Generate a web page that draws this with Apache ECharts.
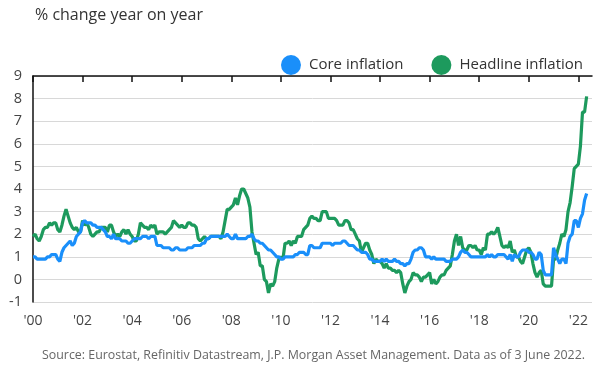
<!DOCTYPE html>
<html>
<head>
<meta charset="utf-8">
<script src="https://cdn.jsdelivr.net/npm/echarts@6/dist/echarts.min.js"></script>
<style>
html,body{margin:0;padding:0;background:#fff;}
#chart{width:600px;height:374px;}
</style>
</head>
<body>
<div id="chart"></div>
<script>
const startYear = 2000;
const yTicks = [-1, 0, 1, 2, 3, 4, 5, 6, 7, 8, 9];
const xTickYears = [2000, 2002, 2004, 2006, 2008, 2010, 2012, 2014, 2016, 2018, 2020, 2022];

const headline = [
  1.9,2.0,1.8,1.7,1.9,2.2,2.3,2.3,2.5,2.4,2.5,2.5,
  2.2,2.1,2.4,2.8,3.1,2.8,2.5,2.3,2.2,2.3,2.1,2.1,
  2.6,2.4,2.5,2.3,2.0,1.9,2.0,2.1,2.1,2.3,2.3,2.3,
  2.1,2.4,2.4,2.1,1.9,2.0,1.9,2.1,2.2,2.0,2.2,2.0,
  1.9,1.7,1.7,2.0,2.5,2.4,2.3,2.3,2.2,2.4,2.3,2.4,
  2.0,2.1,2.1,2.1,2.0,2.1,2.2,2.3,2.6,2.5,2.4,2.3,
  2.4,2.3,2.3,2.5,2.5,2.4,2.4,2.3,1.8,1.7,1.8,1.9,
  1.8,1.8,1.9,1.9,1.9,1.9,1.9,1.8,2.1,2.6,3.1,3.1,
  3.2,3.3,3.6,3.3,3.7,4.0,4.0,3.8,3.6,3.2,2.1,1.6,
  1.1,1.2,0.6,0.6,0.0,-0.1,-0.6,-0.2,-0.3,-0.1,0.5,0.9,
  1.0,0.9,1.6,1.6,1.7,1.5,1.7,1.6,1.9,1.9,1.9,2.2,
  2.3,2.4,2.7,2.8,2.7,2.7,2.6,2.6,3.0,3.0,3.0,2.7,
  2.7,2.7,2.7,2.6,2.4,2.4,2.4,2.6,2.6,2.5,2.2,2.2,
  2.0,1.8,1.7,1.2,1.4,1.6,1.6,1.3,1.1,0.7,0.9,0.8,
  0.8,0.7,0.5,0.7,0.5,0.5,0.4,0.4,0.3,0.4,0.3,-0.2,
  -0.6,-0.3,-0.1,0.0,0.3,0.2,0.2,0.1,-0.1,0.1,0.1,0.2,
  0.3,-0.2,0.0,-0.2,-0.1,0.1,0.2,0.2,0.4,0.5,0.6,1.1,
  1.7,2.0,1.5,1.9,1.4,1.3,1.3,1.5,1.5,1.4,1.5,1.3,
  1.3,1.1,1.4,1.3,2.0,2.0,2.1,2.0,2.1,2.3,1.9,1.5,
  1.4,1.5,1.4,1.7,1.2,1.3,1.0,1.0,0.8,0.7,1.0,1.3,
  1.4,1.2,0.7,0.3,0.1,0.3,0.4,-0.2,-0.3,-0.3,-0.3,-0.3,
  0.9,0.9,1.3,1.6,2.0,1.9,2.2,3.0,3.4,4.1,4.9,5.0,
  5.1,5.9,7.4,7.4,8.1
];

const core = [
  1.0,1.0,0.9,0.9,0.9,0.9,0.9,1.0,1.0,1.1,1.1,1.1,
  0.9,0.8,1.2,1.4,1.5,1.6,1.7,1.5,1.6,1.9,2.0,2.1,
  2.5,2.6,2.5,2.5,2.5,2.4,2.4,2.3,2.3,2.3,2.2,2.1,
  1.9,1.9,1.8,2.0,1.8,1.8,1.8,1.7,1.7,1.7,1.6,1.6,
  1.7,1.8,1.8,1.8,1.8,1.9,1.9,1.9,1.8,1.9,1.9,1.9,
  1.5,1.5,1.5,1.4,1.4,1.4,1.4,1.3,1.3,1.4,1.4,1.3,
  1.3,1.3,1.3,1.4,1.4,1.4,1.5,1.5,1.5,1.5,1.6,1.6,
  1.8,1.8,1.9,1.9,1.9,1.9,1.9,1.9,1.9,1.9,2.0,1.9,
  1.8,1.8,2.0,1.8,1.8,1.8,1.8,1.8,1.9,1.9,2.0,1.8,
  1.7,1.7,1.6,1.6,1.5,1.4,1.3,1.3,1.2,1.1,1.0,1.0,
  0.9,0.9,1.0,1.0,1.0,1.0,1.0,1.1,1.1,1.2,1.2,1.2,
  1.1,1.1,1.5,1.5,1.4,1.4,1.4,1.4,1.6,1.6,1.6,1.6,
  1.6,1.5,1.6,1.6,1.6,1.6,1.7,1.7,1.6,1.5,1.5,1.5,
  1.4,1.3,1.3,1.2,1.2,1.2,1.1,0.9,0.9,0.8,0.8,0.8,
  0.8,0.9,0.8,0.9,0.8,0.8,0.8,0.9,0.8,0.8,0.7,0.7,
  0.6,0.7,0.7,0.9,1.2,1.3,1.3,1.4,1.4,1.3,1.0,1.0,
  1.0,0.9,1.0,0.9,0.9,0.9,0.9,0.9,0.8,0.8,0.8,0.9,
  0.9,0.9,1.0,1.2,1.3,1.2,1.2,1.1,1.0,1.0,1.0,1.0,
  1.0,1.0,1.0,1.0,1.1,1.0,1.1,1.0,1.0,1.1,1.1,1.1,
  1.1,1.0,0.9,1.1,0.8,1.1,1.0,1.0,1.2,1.3,1.3,1.3,
  1.2,1.2,1.1,0.9,0.9,1.2,1.1,0.4,0.2,0.2,0.2,0.2,
  1.4,1.1,0.9,0.7,0.9,0.9,0.7,1.6,1.9,2.0,2.6,2.6,
  2.3,2.7,2.9,3.5,3.8
];

// month categories: "YYYY-MM"
const months = headline.map((_, i) => {
  const y = startYear + Math.floor(i / 12);
  const m = (i % 12) + 1;
  return y + '-' + (m < 10 ? '0' + m : m);
});
function monthToYear(s) {
  const p = s.split('-');
  return Number(p[0]) + (Number(p[1]) - 1) / 12;
}
const coreData = months.map((m, i) => [monthToYear(m), core[i]]);
const headData = months.map((m, i) => [monthToYear(m), headline[i]]);

const FONT = '"Open Sans", sans-serif';
const BLUE = '#1a8ffa';
const GREEN = '#1d9a5d';

const chart = echarts.init(document.getElementById('chart'), null, {renderer: 'canvas'});
chart.setOption({
  animation: false,
  textStyle: {fontFamily: FONT},
  title: {
    text: '% change year on year',
    left: 30, top: 2,
    textStyle: {fontSize: 16, fontWeight: 'normal', color: '#333', fontFamily: FONT}
  },
  legend: {
    data: ['Core inflation', 'Headline inflation'],
    right: 12, top: 50,
    icon: 'circle',
    itemWidth: 20, itemHeight: 20,
    itemGap: 28,
    textStyle: {fontSize: 15, color: '#333', fontFamily: FONT, padding: [0,0,0,3]}
  },
  graphic: [{
    type: 'text',
    left: 42, top: 349,
    style: {
      text: 'Source: Eurostat, Refinitiv Datastream, J.P. Morgan Asset Management. Data as of 3 June 2022.',
      fontSize: 12.4, fill: '#666', fontFamily: FONT
    }
  }],
  grid: {left: 33, right: 8, top: 76, bottom: 72},
  xAxis: [{
    type: 'value',
    min: 2000, max: 2022.55,
    position: 'bottom',
    axisLine: {show: false},
    axisTick: {show: false},
    splitLine: {show: false},
    axisLabel: {
      customValues: xTickYears,
      fontSize: 14, color: '#444', margin: 12,
      formatter: v => "'" + String(Math.round(v)).slice(2)
    }
  }, {
    type: 'value',
    min: 2000, max: 2022.55,
    position: 'top',
    axisLine: {show: true, onZero: true, lineStyle: {color: '#111', width: 1.5}},
    axisTick: {show: true, inside: true, length: 6, customValues: xTickYears, lineStyle: {color: '#111', width: 1.5}},
    axisLabel: {show: false},
    splitLine: {show: false}
  }],
  yAxis: {
    type: 'value',
    min: -1, max: 9, interval: 1,
    axisLine: {show: true, onZero: false, lineStyle: {color: '#111', width: 1.5}},
    axisTick: {show: false},
    axisLabel: {fontSize: 14.5, color: '#444', margin: 11},
    splitLine: {lineStyle: {color: '#d8d8d8', width: 1}}
  },
  series: [{
    name: 'Core inflation',
    type: 'line',
    xAxisIndex: 0,
    data: coreData,
    showSymbol: false,
    color: BLUE,
    lineStyle: {width: 3.2, color: BLUE},
    z: 3
  }, {
    name: 'Headline inflation',
    type: 'line',
    xAxisIndex: 0,
    data: headData,
    showSymbol: false,
    color: GREEN,
    lineStyle: {width: 3.2, color: GREEN},
    z: 2
  }]
});
</script>
</body>
</html>
